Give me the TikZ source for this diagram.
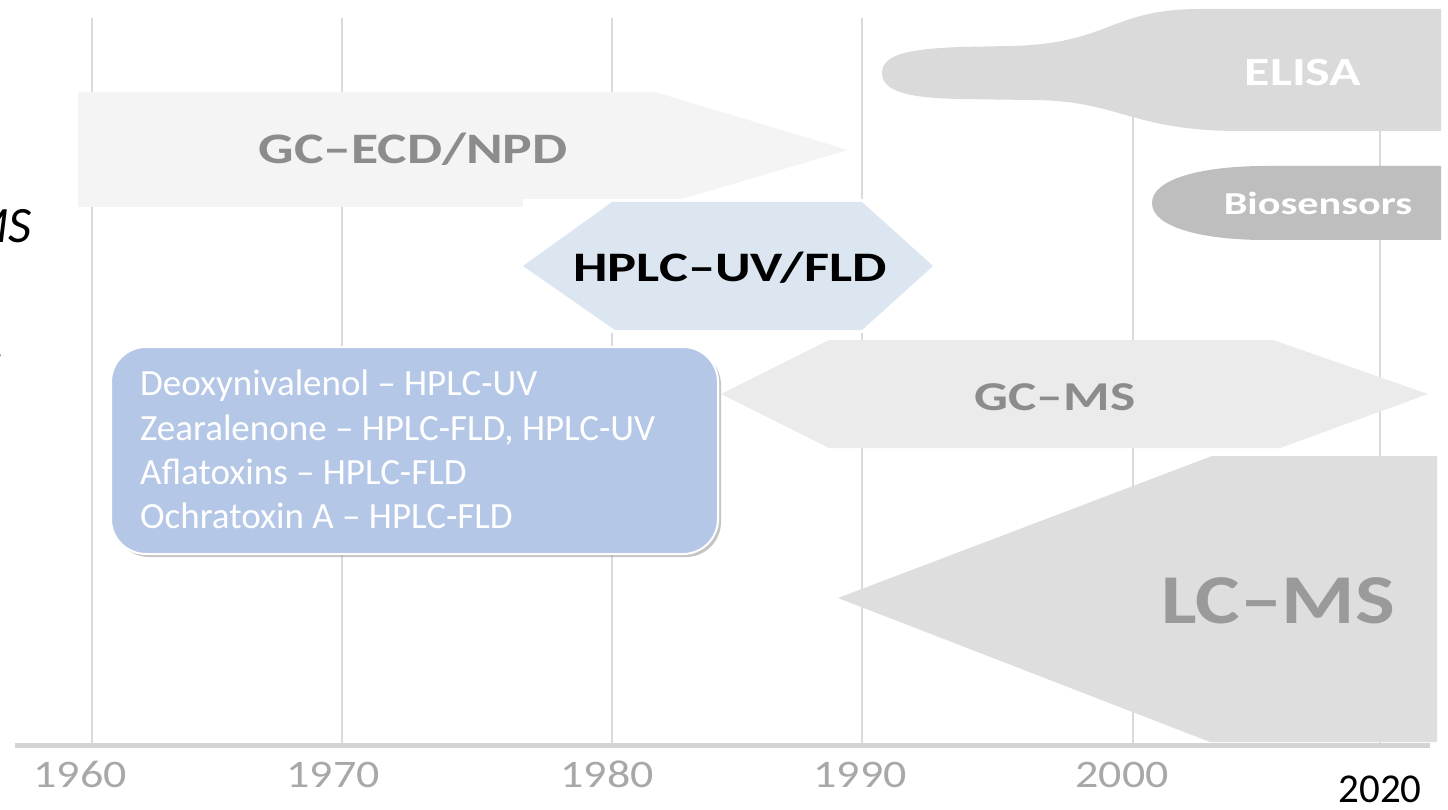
\documentclass[tikz,border=0pt]{standalone}
\usepackage{graphicx}
\usepackage{fontspec}
\setmainfont{Carlito}
\usetikzlibrary{shadows}
\definecolor{gridc}{HTML}{DADADA}
\definecolor{axisc}{HTML}{D4D4D4}
\definecolor{ecdc}{HTML}{F4F4F4}
\definecolor{elisac}{HTML}{DADADA}
\definecolor{bioc}{HTML}{BEBEBE}
\definecolor{hplcc}{HTML}{DCE6F1}
\definecolor{gcmsc}{HTML}{EBEBEB}
\definecolor{lcmsc}{HTML}{DEDEDE}
\definecolor{boxc}{HTML}{B4C7E7}
\definecolor{txtg}{HTML}{8C8C8C}
\definecolor{lctxt}{HTML}{9A9A9A}
\definecolor{yearc}{HTML}{A8A8A8}
\newcommand{\hstr}[2]{\scalebox{#1}[1]{#2}}
\newcommand{\fsz}[1]{\fontsize{#1}{#1}\selectfont}
\begin{document}
\begin{tikzpicture}[x=1pt,y=-1pt,
  lbl/.style={inner sep=0pt, anchor=base},
  boxline/.style={inner sep=0pt, anchor=base west, text=white, font=\fsz{37}},
  year/.style={inner sep=0pt, anchor=base, text=yearc, font=\fsz{39}},
  infobox/.style={draw=white, line width=2pt, fill=boxc, rounded corners=35pt,
    minimum width=607pt, minimum height=207pt, anchor=north west,
    drop shadow={shadow xshift=3pt, shadow yshift=-3pt, opacity=0.45, fill=gray}}]
\useasboundingbox (0,0) rectangle (1448,810);
\fill[white] (0,0) rectangle (1448,810);
% grid lines
\foreach \gx in {92,342,612,862,1133,1380}
  \draw[gridc, line width=2pt] (\gx,18) -- (\gx,745);
% axis
\draw[axisc, line width=5pt] (15,745) -- (1430,745);
% GC-ECD/NPD
\fill[ecdc] (78,92) -- (655,92) -- (848,150) -- (655,207) -- (78,207) -- cycle;
% ELISA
\fill[elisac] (882,73) .. controls (882,54) and (910,49) .. (960,47) -- (1010,46)
  .. controls (1110,44) and (1110,9) .. (1200,9) -- (1441,9) -- (1441,131) -- (1240,131)
  .. controls (1130,131) and (1120,100) .. (1030,100) -- (960,99)
  .. controls (910,98) and (882,92) .. cycle;
% Biosensors
\fill[bioc] (1152,203) .. controls (1152,178) and (1205,166) .. (1265,166) -- (1441,166)
  -- (1441,240) -- (1265,240) .. controls (1205,240) and (1152,228) .. cycle;
% HPLC hexagon
\fill[white] (523,199) rectangle (933,333);
\fill[hplcc] (523,266) -- (612,202) -- (862,202) -- (933,266) -- (862,330) -- (615,330) -- cycle;
% GC-MS
\fill[gcmsc] (721,394) -- (829,340) -- (1273,340) -- (1428,394) -- (1280,448) -- (829,448) -- cycle;
% LC-MS
\fill[lcmsc] (838,598) -- (1212,456) -- (1437,456) -- (1437,742) -- (1210,742) -- cycle;
% labels
\node[lbl, text=txtg, font=\bfseries\fsz{43.5}] (gcecd) at (413,164) {\hstr{1.28}{GC–ECD/NPD}};
\node[lbl, text=white, font=\bfseries\fsz{40}] (elisa) at (1303,86) {\hstr{1.3}{ELISA}};
\node[lbl, text=white, font=\bfseries\fsz{32}] (bio) at (1318,215) {\hstr{1.32}{Biosensors}};
\node[lbl, text=black, font=\bfseries\fsz{42}] (hplc) at (730,282) {\hstr{1.3}{HPLC–UV/FLD}};
\node[lbl, text=txtg, font=\bfseries\fsz{41}] (gcms) at (1055,410) {\hstr{1.3}{GC–MS}};
\node[lbl, text=lctxt, font=\bfseries\fsz{70}] (lcms) at (1278,623) {\hstr{1.2}{LC–MS}};
% info box
\node[infobox] (box) at (110,346) {};
\node[boxline] (l1) at (140,395) {Deoxynivalenol – HPLC-UV};
\node[boxline] (l2) at (140,440) {Zearalenone – HPLC-FLD, HPLC-UV};
\node[boxline] (l3) at (140,484) {Aflatoxins – HPLC-FLD};
\node[boxline] (l4) at (140,528) {Ochratoxin A – HPLC-FLD};
% years
\node[year] (y60) at (80,787) {\hstr{1.18}{1960}};
\node[year] (y70) at (333,787) {\hstr{1.18}{1970}};
\node[year] (y80) at (607,787) {\hstr{1.18}{1980}};
\node[year] (y90) at (860,787) {\hstr{1.18}{1990}};
\node[year] (y00) at (1122,787) {\hstr{1.18}{2000}};
\node[inner sep=0pt, anchor=base, font=\fsz{41}] (y20) at (1380,802) {2020};
% cut-off side text
\node[inner sep=0pt, anchor=base east, font=\itshape\fsz{51}] (ms) at (32,243) {MS};
\node[inner sep=0pt, anchor=base east, font=\itshape\fsz{51}] (dot) at (6,358) {.};
\end{tikzpicture}
\end{document}
